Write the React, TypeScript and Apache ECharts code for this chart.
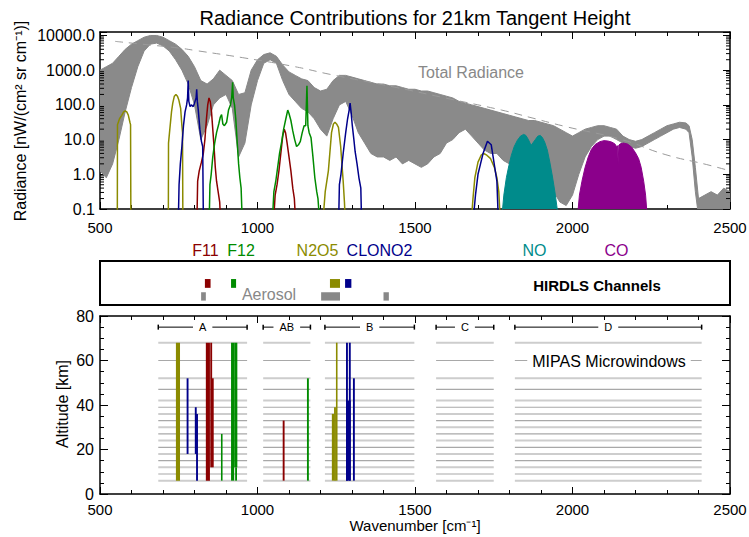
import React, { useEffect, useRef } from 'react';
import * as echarts from 'echarts';

const FONT = 'Liberation Sans, Arial, Helvetica, sans-serif';

// ---------- Top panel: log10 radiance [nW/(cm2 sr cm-1)] ----------
const totalWn = [500, 520, 540, 560, 580, 600, 620, 640, 660, 680, 700, 720, 740, 760, 780, 800, 820, 840, 860, 880, 900, 920, 940, 960, 980, 1000, 1020, 1040, 1060, 1080, 1100, 1120, 1140, 1160, 1180, 1200, 1220, 1240, 1260, 1280, 1300, 1320, 1340, 1360, 1380, 1400, 1420, 1440, 1460, 1480, 1500, 1520, 1540, 1560, 1580, 1600, 1620, 1640, 1660, 1680, 1700, 1720, 1740, 1760, 1780, 1800, 1820, 1840, 1860, 1880, 1900, 1920, 1940, 1960, 1980, 2000, 2020, 2040, 2060, 2080, 2100, 2120, 2140, 2160, 2180, 2200, 2220, 2240, 2260, 2280, 2300, 2320, 2340, 2360, 2370, 2380, 2390, 2400, 2420, 2440, 2460, 2480, 2500];
const totalUpper = [3.0, 3.1, 3.2, 3.4, 3.6, 3.75, 3.85, 3.95, 4.0, 4.0, 3.95, 3.85, 3.75, 3.6, 3.4, 3.1, 2.7, 2.6, 2.75, 3.0, 2.85, 2.7, 2.3, 2.35, 3.0, 3.3, 3.45, 3.5, 3.4, 3.15, 2.95, 2.85, 2.75, 2.7, 2.5, 2.4, 2.45, 2.7, 2.85, 2.85, 2.8, 2.75, 2.7, 2.65, 2.6, 2.6, 2.55, 2.55, 2.5, 2.45, 2.45, 2.4, 2.4, 2.35, 2.3, 2.25, 2.2, 2.1, 2.05, 2.0, 1.95, 1.9, 1.85, 1.8, 1.75, 1.7, 1.65, 1.6, 1.55, 1.55, 1.5, 1.45, 1.4, 1.3, 1.2, 1.1, 1.2, 1.3, 1.35, 1.4, 1.4, 1.35, 1.3, 1.1, 1.0, 0.95, 1.0, 1.1, 1.2, 1.3, 1.4, 1.45, 1.5, 1.48, 1.4, 1.0, 0.2, -0.7, -0.6, -0.5, -0.6, -0.4, -0.5];
const totalLower = [0.1, -0.1, 0.3, 1.0, 1.8, 2.5, 3.1, 3.55, 3.75, 3.78, 3.7, 3.55, 3.3, 3.0, 2.6, 2.0, 1.0, 1.4, 2.0, 2.2, 2.3, 1.9, 0.5, 0.9, 2.0, 2.7, 3.2, 3.3, 3.2, 2.7, 2.3, 2.1, 1.9, 1.8, 1.6, 1.3, 1.1, 1.6, 2.0, 2.1, 1.7, 1.2, 0.9, 0.6, 0.5, 0.5, 0.4, 0.5, 0.3, 0.4, 0.3, 0.2, 0.3, 0.5, 0.6, 0.9, 1.0, 1.2, 1.3, 1.1, 0.9, 0.7, 0.6, 0.6, 0.4, 0.3, 0.2, 0.3, 0.2, 0.1, 0.0, -0.2, -0.5, -0.8, -0.9, -0.6, 0.0, 0.5, 0.8, 1.0, 1.1, 1.1, 1.0, 0.9, 0.8, 0.75, 0.8, 0.9, 1.0, 1.1, 1.2, 1.3, 1.35, 1.3, 1.2, 0.5, -0.5, -1.2, -1.2, -1.2, -1.2, -1.2, -1.2];

const planckWn = [548, 643, 749, 801, 960, 1119, 1230, 1436, 1595, 1775, 1865, 1976, 2156, 2294, 2426, 2500];
const planckLog = [3.83, 3.74, 3.64, 3.57, 3.35, 3.1, 2.88, 2.51, 2.2, 1.85, 1.64, 1.38, 1.0, 0.57, 0.28, 0.1];

const n2o5A = [[555, -1.2], [555.5, 1.43], [562, 1.6], [569, 1.7], [575, 1.8], [580, 1.83], [585, 1.8], [590, 1.7], [595, 1.5], [597, 1.43], [598, -1.2]];
const n2o5B = [[717, -1.2], [717.5, 0.9], [722, 1.33], [727, 1.8], [731, 2.05], [736, 2.25], [741, 2.3], [746, 2.25], [750, 2.15], [756, 1.9], [760, 1.4], [762, 1.2], [763, -1.2]];
const n2o5C = [[1209, -1.2], [1215, -0.5], [1225, 0.1], [1235, 1.2], [1241, 1.45], [1246, 1.5], [1251, 1.45], [1257, 1.35], [1264, 0.8], [1272, -0.2], [1276, -0.8], [1278, -1.2]];
const n2o5D = [[1680, -1.2], [1684, -0.7], [1690, -0.1], [1700, 0.35], [1710, 0.55], [1718, 0.6], [1728, 0.55], [1740, 0.45], [1752, 0.2], [1760, -0.1], [1766, -0.5], [1770, -1.2]];
const clono2A = [[749, -1.2], [751, -0.3], [755, 0.3], [760, 0.8], [765, 1.4], [770, 1.8], [775, 2.0], [778, 2.2], [780, 2.7], [782, 2.1], [786, 1.95], [790, 2.0], [796, 1.95], [800, 2.05], [805, 2.2], [807, 2.45], [809, 2.1], [812, 1.85], [817, 1.3], [822, 0.95], [826, 0.8], [828, -1.2]];
const clono2B = [[1258, -1.2], [1260, -0.3], [1265, 0.0], [1272, 0.6], [1280, 1.2], [1286, 1.6], [1291, 1.85], [1294, 2.05], [1297, 1.8], [1301, 1.4], [1306, 1.0], [1310, 0.65], [1316, 0.3], [1322, -0.1], [1328, -0.4], [1330, -1.2]];
const clono2C = [[1686, -1.2], [1692, -0.6], [1700, 0.0], [1708, 0.3], [1716, 0.6], [1724, 0.8], [1730, 0.95], [1736, 0.9], [1742, 0.85], [1748, 0.5], [1754, 0.15], [1760, -0.2], [1764, -1.2]];
const f11A = [[808, -1.2], [810, -0.2], [815, 0.1], [822, 0.35], [828, 0.6], [833, 1.0], [838, 1.6], [842, 2.0], [846, 2.2], [850, 2.1], [854, 1.8], [858, 1.3], [862, 0.8], [866, 0.2], [870, -0.2], [875, -0.5], [880, -0.8], [882, -1.2]];
const f11B = [[1052, -1.2], [1056, -0.6], [1062, -0.3], [1068, 0.1], [1074, 0.6], [1080, 1.1], [1085, 1.3], [1089, 1.2], [1094, 0.9], [1100, 0.5], [1106, 0.1], [1112, -0.4], [1117, -0.7], [1120, -1.2]];
const f12A = [[847, -1.2], [849, -0.3], [853, 0.0], [858, 0.5], [864, 0.9], [870, 1.2], [877, 1.45], [882, 1.65], [886, 1.72], [890, 1.45], [895, 1.4], [902, 1.5], [908, 1.85], [914, 2.0], [918, 2.2], [921, 2.65], [923, 2.2], [927, 2.0], [931, 1.6], [935, 1.0], [940, 0.3], [944, -0.1], [948, -0.4], [951, -1.2]];
const f12B = [[1048, -1.2], [1052, -0.5], [1058, -0.2], [1064, 0.2], [1070, 0.6], [1077, 0.95], [1083, 1.3], [1090, 1.6], [1096, 1.85], [1100, 1.75], [1106, 1.55], [1112, 1.25], [1118, 1.0], [1124, 0.8], [1130, 0.85], [1136, 0.95], [1142, 1.2], [1148, 1.4], [1153, 1.4], [1157, 2.55], [1160, 1.4], [1164, 1.2], [1170, 1.05], [1176, 0.5], [1182, -0.1], [1188, -0.5], [1192, -0.7], [1196, -1.2]];
const noBand = [[1776, -1.2], [1782, -0.6], [1790, -0.1], [1798, 0.25], [1806, 0.55], [1815, 0.8], [1825, 0.98], [1835, 1.1], [1845, 1.15], [1852, 1.12], [1860, 1.0], [1866, 0.88], [1870, 0.85], [1874, 0.9], [1882, 1.0], [1890, 1.1], [1898, 1.12], [1905, 1.05], [1912, 0.92], [1920, 0.7], [1928, 0.35], [1936, -0.05], [1944, -0.5], [1950, -0.9], [1954, -1.2]];
const coBand = [[2016, -1.2], [2022, -0.6], [2030, -0.2], [2040, 0.2], [2050, 0.5], [2060, 0.72], [2072, 0.86], [2087, 0.94], [2100, 0.97], [2112, 0.96], [2124, 0.93], [2134, 0.88], [2140, 0.8], [2143, 0.82], [2145, 0.3], [2147, 0.84], [2152, 0.88], [2162, 0.9], [2175, 0.87], [2188, 0.78], [2200, 0.62], [2210, 0.45], [2218, 0.2], [2226, -0.2], [2232, -0.6], [2237, -1.2]];

const logDecades = [-1, 0, 1, 2, 3];
const logMinorMult = [2, 3, 4, 5, 6, 7, 8, 9];

// ---------- Middle panel: HIRDLS channels ----------
const hirdlsStart = [833, 916, 1230, 1278, 821, 1202, 1400];
const hirdlsEnd = [851, 932, 1262, 1298, 836, 1262, 1417];
const hirdlsRow = [1, 1, 1, 1, 0, 0, 0];
const hirdlsGas = ['F11', 'F12', 'N2O5', 'CLONO2', 'AER', 'AER', 'AER'];

const speciesNames = ['F11', 'F12', 'N2O5', 'CLONO2', 'NO', 'CO'];
const speciesLabelX = [205.5, 241, 317.5, 379.5, 534.5, 616.5];

// ---------- Bottom panel: MIPAS microwindows ----------
const mwBandNames = ['A', 'AB', 'B', 'C', 'D'];
const mwBandStart = [685, 1018, 1214, 1567, 1817];
const mwBandEnd = [967, 1168, 1498, 1750, 2410];
const mwAltitudes = [6, 9, 12, 15, 18, 21, 24, 27, 30, 33, 36, 39, 42, 47, 52, 60, 68];
const mwBracketAlt = 75;

const mwStart = [741, 775, 801, 805, 836, 850, 855, 884, 916, 926, 929, 1080, 1157, 1236, 1243, 1249, 1281, 1290, 1281, 1303];
const mwEnd = [754, 781, 807, 811, 849, 856, 861, 889, 926, 936, 935, 1086, 1163, 1243, 1249, 1254, 1287, 1296, 1296, 1309];
const mwLow = [6, 18, 18, 6, 6, 12, 12, 6, 6, 12, 6, 6, 6, 6, 6, 6, 6, 6, 6, 6];
const mwHigh = [68, 52, 39, 36, 68, 68, 52, 27, 68, 68, 12, 33, 52, 36, 39, 68, 68, 68, 42, 52];
const mwGas = ['N2O5', 'CLONO2', 'CLONO2', 'CLONO2', 'F11', 'F11', 'F11', 'F12', 'F12', 'F12', 'F12', 'F11', 'F12', 'N2O5', 'N2O5', 'N2O5', 'CLONO2', 'CLONO2', 'CLONO2', 'CLONO2'];

const GAS_COLOR: Record<string, string> = {
  F11: '#8B0000',
  F12: '#008B00',
  N2O5: '#8B8B00',
  CLONO2: '#00008B',
  NO: '#008B8B',
  CO: '#8B008B',
  AER: '#888888',
};

function xAxisDef(gridIndex: number, position: string, showLabels: boolean, margin: number) {
  return {
    type: 'value',
    gridIndex,
    position,
    min: 500,
    max: 2500,
    interval: 500,
    axisLine: { show: true, onZero: false, lineStyle: { color: '#000', width: 1.5 } },
    axisTick: { show: true, inside: true, length: 7, lineStyle: { color: '#000', width: 1 } },
    minorTick: { show: true, splitNumber: 5, length: 4, lineStyle: { color: '#000', width: 1 } },
    splitLine: { show: false },
    minorSplitLine: { show: false },
    axisLabel: {
      show: showLabels, color: '#000', fontSize: 15, margin, fontFamily: FONT,
      formatter: (v: number) => String(v),
    },
  };
}

function buildOption() {
  const minorLog: number[][] = [];
  logDecades.forEach((d) => logMinorMult.forEach((m) => minorLog.push([500, d + Math.log10(m)])));

  const lineSeries = (data: number[][], gas: string) => ({
    type: 'line',
    xAxisIndex: 0,
    yAxisIndex: 0,
    data,
    showSymbol: false,
    symbol: 'none',
    clip: true,
    silent: true,
    z: 5,
    lineStyle: { color: GAS_COLOR[gas], width: 1.5 },
  });
  const fillSeries = (data: number[][], gas: string) => ({
    type: 'line',
    xAxisIndex: 0,
    yAxisIndex: 0,
    data,
    showSymbol: false,
    symbol: 'none',
    clip: true,
    silent: true,
    z: 5,
    lineStyle: { color: GAS_COLOR[gas], width: 1 },
    areaStyle: { color: GAS_COLOR[gas], opacity: 1, origin: 'start' },
  });

  const hirdlsData = hirdlsStart.map((s, i) => [s, hirdlsEnd[i], hirdlsRow[i], i]);
  const gridLineData: number[][] = [];
  mwBandStart.forEach((s, b) => mwAltitudes.forEach((a, k) => gridLineData.push([s, mwBandEnd[b], a, k])));
  const bracketData = mwBandStart.map((s, b) => [s, mwBandEnd[b], mwBracketAlt, b]);
  const mwData = mwStart.map((s, i) => [s, mwEnd[i], mwLow[i], mwHigh[i], i]);

  const textEl = (text: string, x: number, y: number, opts: any = {}) => ({
    type: 'text',
    x,
    y,
    z: 100,
    rotation: opts.rotation || 0,
    style: {
      text,
      fill: opts.fill || '#000',
      font: `${opts.weight || 'normal'} ${opts.size || 16}px ${FONT}`,
      align: 'center',
      verticalAlign: 'middle',
      backgroundColor: opts.bg,
      padding: opts.padding,
    },
  });

  return {
    animation: false,
    backgroundColor: '#fff',
    textStyle: { fontFamily: FONT },
    grid: [
      { left: 100, top: 32, width: 630, height: 177, outerBoundsMode: 'none' },
      { left: 100, top: 261, width: 630, height: 44, show: true, borderColor: '#000', borderWidth: 2, backgroundColor: 'transparent', outerBoundsMode: 'none' },
      { left: 100, top: 316, width: 630, height: 178, outerBoundsMode: 'none' },
    ],
    xAxis: [
      xAxisDef(0, 'bottom', true, 11),
      xAxisDef(0, 'top', false, 8),
      { type: 'value', gridIndex: 1, min: 500, max: 2500, show: false },
      xAxisDef(2, 'bottom', true, 8),
      xAxisDef(2, 'top', false, 8),
    ],
    yAxis: [
      {
        type: 'value', gridIndex: 0, position: 'left', min: -1, max: 4.1, interval: 1,
        axisLine: { show: true, onZero: false, lineStyle: { color: '#000', width: 1.5 } },
        axisTick: { show: true, inside: true, length: 7, lineStyle: { color: '#000', width: 1 } },
        splitLine: { show: false },
        axisLabel: {
          color: '#000', fontSize: 16, margin: 5, fontFamily: FONT,
          formatter: (v: number) => (Math.abs(v - Math.round(v)) < 1e-6 ? Math.pow(10, Math.round(v)).toFixed(1) : ''),
        },
      },
      {
        type: 'value', gridIndex: 0, position: 'right', min: -1, max: 4.1, interval: 1,
        axisLine: { show: true, onZero: false, lineStyle: { color: '#000', width: 1.5 } },
        axisTick: { show: true, inside: true, length: 7, lineStyle: { color: '#000', width: 1 } },
        splitLine: { show: false },
        axisLabel: { show: false },
      },
      { type: 'value', gridIndex: 1, min: 0, max: 10, show: false },
      {
        type: 'value', gridIndex: 2, position: 'left', min: 0, max: 80, interval: 20,
        axisLine: { show: true, onZero: false, lineStyle: { color: '#000', width: 1.5 } },
        axisTick: { show: true, inside: true, length: 8, lineStyle: { color: '#000', width: 1 } },
        minorTick: { show: true, splitNumber: 4, length: 4, lineStyle: { color: '#000', width: 1 } },
        splitLine: { show: false },
        minorSplitLine: { show: false },
        axisLabel: { color: '#000', fontSize: 16, margin: 6, fontFamily: FONT },
      },
      {
        type: 'value', gridIndex: 2, position: 'right', min: 0, max: 80, interval: 20,
        axisLine: { show: true, onZero: false, lineStyle: { color: '#000', width: 1.5 } },
        axisTick: { show: true, inside: true, length: 8, lineStyle: { color: '#000', width: 1 } },
        minorTick: { show: true, splitNumber: 4, length: 4, lineStyle: { color: '#000', width: 1 } },
        splitLine: { show: false },
        axisLabel: { show: false },
      },
    ],
    series: [
      // total radiance envelope band
      {
        type: 'custom',
        xAxisIndex: 0,
        yAxisIndex: 0,
        clip: true,
        silent: true,
        z: 1,
        data: [[totalWn[0], totalUpper[0]]],
        renderItem: (params: any, api: any) => {
          const pts: number[][] = [];
          for (let i = 0; i < totalWn.length; i++) pts.push(api.coord([totalWn[i], totalUpper[i]]));
          for (let i = totalWn.length - 1; i >= 0; i--) pts.push(api.coord([totalWn[i], totalLower[i]]));
          return { type: 'polygon', shape: { points: pts }, style: { fill: '#8a8a8a', stroke: '#888888', lineWidth: 1 } };
        },
      },
      {
        type: 'line',
        xAxisIndex: 0,
        yAxisIndex: 0,
        data: planckWn.map((w, i) => [w, planckLog[i]]),
        showSymbol: false,
        symbol: 'none',
        smooth: true,
        silent: true,
        z: 3,
        lineStyle: { color: '#9a9a9a', width: 1, type: [8, 6] },
      },
      lineSeries(n2o5A, 'N2O5'),
      lineSeries(n2o5B, 'N2O5'),
      lineSeries(n2o5C, 'N2O5'),
      lineSeries(n2o5D, 'N2O5'),
      lineSeries(f11A, 'F11'),
      lineSeries(f11B, 'F11'),
      lineSeries(f12A, 'F12'),
      lineSeries(f12B, 'F12'),
      lineSeries(clono2A, 'CLONO2'),
      lineSeries(clono2B, 'CLONO2'),
      lineSeries(clono2C, 'CLONO2'),
      fillSeries(noBand, 'NO'),
      fillSeries(coBand, 'CO'),
      // log minor ticks (left and right)
      {
        type: 'custom',
        xAxisIndex: 0,
        yAxisIndex: 0,
        silent: true,
        z: 6,
        data: minorLog,
        renderItem: (params: any, api: any) => {
          const v = api.value(1);
          const pl = api.coord([500, v]);
          const pr = api.coord([2500, v]);
          return {
            type: 'group',
            children: [
              { type: 'line', shape: { x1: pl[0], y1: pl[1], x2: pl[0] + 4, y2: pl[1] }, style: { stroke: '#000', lineWidth: 1 } },
              { type: 'line', shape: { x1: pr[0] - 4, y1: pr[1], x2: pr[0], y2: pr[1] }, style: { stroke: '#000', lineWidth: 1 } },
            ],
          };
        },
      },
      // HIRDLS channels
      {
        type: 'custom',
        xAxisIndex: 2,
        yAxisIndex: 2,
        silent: true,
        data: hirdlsData,
        renderItem: (params: any, api: any) => {
          const s = api.value(0);
          const e = api.value(1);
          const row = api.value(2);
          const idx = api.value(3);
          const lo = row === 1 ? 3.9 : 1.0;
          const hi = row === 1 ? 5.9 : 2.9;
          const p1 = api.coord([s, hi]);
          const p2 = api.coord([e, lo]);
          return {
            type: 'rect',
            shape: { x: p1[0], y: p1[1], width: Math.max(p2[0] - p1[0], 2), height: p2[1] - p1[1] },
            style: { fill: GAS_COLOR[hirdlsGas[idx]] },
          };
        },
      },
      // MIPAS microwindow altitude grid lines
      {
        type: 'custom',
        xAxisIndex: 3,
        yAxisIndex: 3,
        silent: true,
        z: 2,
        data: gridLineData,
        renderItem: (params: any, api: any) => {
          const p1 = api.coord([api.value(0), api.value(2)]);
          const p2 = api.coord([api.value(1), api.value(2)]);
          const k = api.value(3);
          return {
            type: 'line',
            shape: { x1: p1[0], y1: p1[1], x2: p2[0], y2: p2[1] },
            style: { stroke: k % 2 === 0 ? '#cdcdcd' : '#a8a8a8', lineWidth: k % 2 === 0 ? 2 : 1.2 },
          };
        },
      },
      // band brackets
      {
        type: 'custom',
        xAxisIndex: 3,
        yAxisIndex: 3,
        silent: true,
        z: 3,
        data: bracketData,
        renderItem: (params: any, api: any) => {
          const p1 = api.coord([api.value(0), api.value(2)]);
          const p2 = api.coord([api.value(1), api.value(2)]);
          const idx = api.value(3);
          const mid = (p1[0] + p2[0]) / 2;
          return {
            type: 'group',
            children: [
              { type: 'line', shape: { x1: p1[0], y1: p1[1], x2: p2[0], y2: p2[1] }, style: { stroke: '#000', lineWidth: 1 } },
              { type: 'line', shape: { x1: p1[0], y1: p1[1] - 2.5, x2: p1[0], y2: p1[1] + 2.5 }, style: { stroke: '#000', lineWidth: 1.5 } },
              { type: 'line', shape: { x1: p2[0], y1: p2[1] - 2.5, x2: p2[0], y2: p2[1] + 2.5 }, style: { stroke: '#000', lineWidth: 1.5 } },
              {
                type: 'text',
                x: mid,
                y: p1[1],
                style: {
                  text: mwBandNames[idx],
                  align: 'center',
                  verticalAlign: 'middle',
                  font: `11px ${FONT}`,
                  fill: '#000',
                  backgroundColor: '#fff',
                  padding: [1, 6],
                },
              },
            ],
          };
        },
      },
      // colored microwindow bars
      {
        type: 'custom',
        xAxisIndex: 3,
        yAxisIndex: 3,
        silent: true,
        z: 4,
        data: mwData,
        renderItem: (params: any, api: any) => {
          const p1 = api.coord([api.value(0), api.value(3)]);
          const p2 = api.coord([api.value(1), api.value(2)]);
          const idx = api.value(4);
          return {
            type: 'rect',
            shape: { x: p1[0], y: p1[1], width: Math.max(p2[0] - p1[0], 1.6), height: p2[1] - p1[1] },
            style: { fill: GAS_COLOR[mwGas[idx]] },
          };
        },
      },
    ],
    graphic: [
      textEl('Radiance Contributions for 21km Tangent Height', 415, 18, { size: 20 }),
      textEl('Radiance [nW/(cm² sr cm⁻¹)]', 20, 121, { rotation: Math.PI / 2 }),
      textEl('Total Radiance', 471, 72, { fill: '#888888' }),
      ...speciesNames.map((n, i) => textEl(n, speciesLabelX[i], 250, { fill: GAS_COLOR[n] })),
      textEl('Aerosol', 269, 294, { fill: '#888888' }),
      textEl('HIRDLS Channels', 597, 285, { size: 15, weight: 'bold' }),
      textEl('MIPAS Microwindows', 609, 361, { bg: '#fff', padding: [1, 5] }),
      textEl('Altitude [km]', 62, 404, { rotation: Math.PI / 2 }),
      textEl('Wavenumber [cm⁻¹]', 415, 525, { size: 15 }),
    ],
  };
}

export default function App() {
  const ref = useRef<HTMLDivElement>(null);
  useEffect(() => {
    if (!ref.current) return;
    const chart = echarts.init(ref.current, null, { renderer: 'svg' });
    chart.setOption(buildOption() as any);
    return () => chart.dispose();
  }, []);
  return (
    <div
      ref={ref}
      style={{ position: 'fixed', left: 0, top: 0, width: 749, height: 537, background: '#fff' }}
    />
  );
}
